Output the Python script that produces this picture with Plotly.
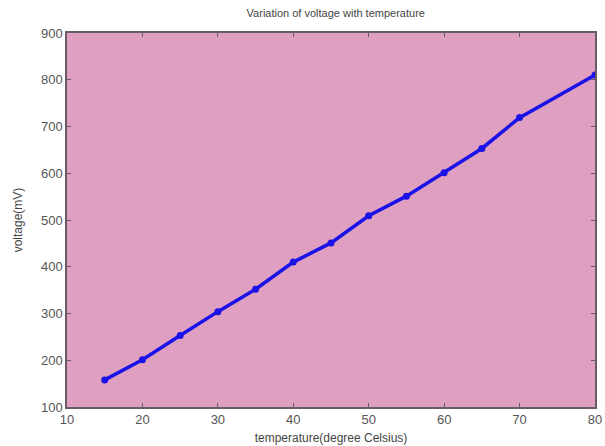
import plotly.graph_objects as go

temperature = [15, 20, 25, 30, 35, 40, 45, 50, 55, 60, 65, 70, 80]
voltage = [158, 201, 253, 304, 352, 410, 451, 509, 551, 601, 653, 719, 810]

x_ticks = [10, 20, 30, 40, 50, 60, 70, 80]
y_ticks = [100, 200, 300, 400, 500, 600, 700, 800, 900]

fig = go.Figure()
fig.add_trace(go.Scatter(
    x=temperature, y=voltage, mode="lines+markers",
    line=dict(color="#1a12e6", width=3.5),
    marker=dict(color="#1a12e6", size=7, symbol="circle"),
    showlegend=False,
))

axis_common = dict(
    showgrid=False, zeroline=False, showline=True, linecolor="#6a5a64", linewidth=1.5,
    mirror="ticks", ticks="inside", ticklen=4, tickcolor="#6a5a64",
    ticklabeloverflow="allow", automargin=False,
    tickfont=dict(family="Liberation Sans, Arial, sans-serif", size=13, color="#555555"),
)

fig.update_layout(
    width=605, height=446,
    margin=dict(l=67, r=10, t=33, b=39),
    paper_bgcolor="white",
    plot_bgcolor="#df9fc0",
    title=dict(text="Variation of voltage with temperature", x=0.555, xanchor="center",
               y=0.97, yanchor="middle", automargin=False,
               font=dict(family="Liberation Sans, Arial, sans-serif", size=11, color="#444444")),
    xaxis=dict(range=[10, 80], tickvals=x_ticks,
               title=dict(text="temperature(degree Celsius)", standoff=7,
                          font=dict(family="Liberation Sans, Arial, sans-serif", size=12, color="#444444")),
               **axis_common),
    yaxis=dict(range=[100, 900], tickvals=y_ticks,
               title=dict(text="voltage(mV)", standoff=16,
                          font=dict(family="Liberation Sans, Arial, sans-serif", size=12, color="#444444")),
               **axis_common),
)

fig.write_html("out.html", config={"displayModeBar": False},
               post_script="document.body.style.margin='0';document.body.style.overflow='hidden';")
